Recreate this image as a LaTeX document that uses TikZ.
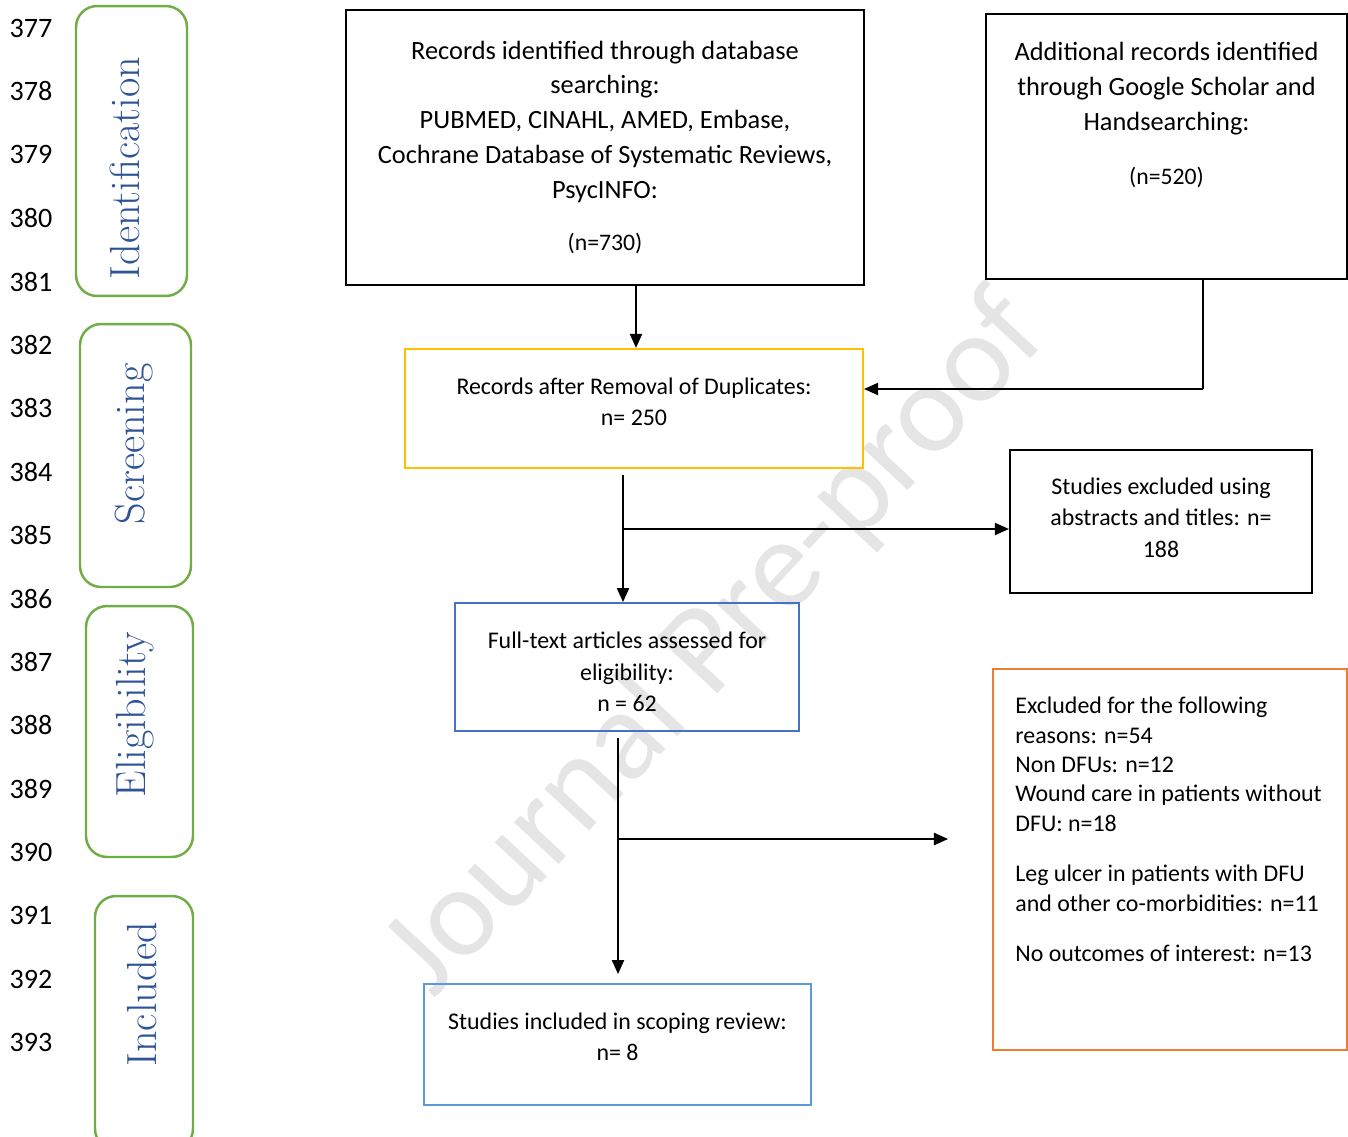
\documentclass[tikz,border=0pt]{standalone}
\usepackage{fontspec}
\newfontfamily\calibri{Carlito}
\usetikzlibrary{arrows.meta}

\definecolor{sidegreen}{HTML}{70AD47}
\definecolor{sideblue}{HTML}{2F5496}
\definecolor{dupyellow}{HTML}{FFC000}
\definecolor{fullblue}{HTML}{4472C4}
\definecolor{inclblue}{HTML}{5B9BD5}
\definecolor{exclorange}{HTML}{ED7D31}

\tikzset{
  box/.style={draw, line width=1.3pt, align=center, inner sep=0pt},
  phase/.style={draw=sidegreen, line width=1.4pt, rounded corners=12pt},
  phaselabel/.style={rotate=90, text=sideblue, inner sep=0pt,
    font=\fontsize{24}{28}\selectfont},
  flow/.style={line width=0.75pt, -{Triangle[length=8pt,width=7pt]}},
  big/.style={font=\calibri\fontsize{15}{19.85}\selectfont},
  small/.style={font=\calibri\fontsize{13.6}{17.9}\selectfont},
  linenum/.style={font=\calibri\fontsize{16}{16}\selectfont, inner sep=0pt}
}

\begin{document}
\begin{tikzpicture}[x=0.02cm,y=-0.02cm]

    \useasboundingbox (0,0) rectangle (1348,1136);

    % Watermark
    \node[rotate=47, text=black!10, inner sep=0pt,
      font=\calibri\fontsize{73}{73}\selectfont] (mark) at (717,645)
    {Journal Pre-proof};

    % Line numbers
    \foreach \n [count=\i from 0] in {377,...,393}
    \node[linenum] (ln\n) at (31,28+63.4*\i) {\n};

    % Phase boxes
    \node[phase, minimum width=2.22cm, minimum height=5.8cm] (ident) at (131.5,151) {};
    \node[phase, minimum width=2.22cm, minimum height=5.26cm] (screen) at (135.5,455.5) {};
    \node[phase, minimum width=2.14cm, minimum height=5.02cm] (elig) at (139.5,731.5) {};
    \node[phase, minimum width=1.96cm, minimum height=5.08cm] (incside) at (144,1023) {};

    \node[phaselabel] (identlbl) at (125,168) {Identification};
    \node[phaselabel] (screenlbl) at (134,444) {Screening};
    \node[phaselabel] (eliglbl) at (135,715) {Eligibility};
    \node[phaselabel] (incsidelbl) at (142,994) {Included};

    % Identification
    \node[box, big, minimum width=10.36cm, minimum height=5.5cm] (db) at (605,147.5)
    {Records identified through database\\
     searching:\\
     PUBMED, CINAHL, AMED, Embase,\\
     Cochrane Database of Systematic Reviews,\\
     PsycINFO:\\[10pt]
     {\fontsize{13.5}{18}\selectfont (n=730)}};

    \node[box, minimum width=7.22cm, minimum height=5.3cm] (add) at (1166.5,146.5) {};
    \node[big, align=center, anchor=north, inner sep=0pt] (addtxt) at (1166.5,42)
    {Additional records identified\\
     through Google Scholar and\\
     Handsearching:\\[11pt]
     {\fontsize{13.5}{18}\selectfont (n=520)}};

    % Screening
    \node[box, small, draw=dupyellow, minimum width=9.16cm, minimum height=2.38cm] (dup)
    at (634,408.5) {Records after Removal of Duplicates:\\ n= 250\\[-10pt]};

    \node[box, small, minimum width=6.04cm, minimum height=2.86cm] (excl1) at (1161,521.5)
    {Studies excluded using\\ abstracts and titles: n=\\ 188\\[-13.4pt]};

    % Eligibility
    \node[box, small, draw=fullblue, line width=1.1pt, minimum width=6.88cm,
      minimum height=2.56cm] (full) at (627,667)
    {Full-text articles assessed for\\ eligibility:\\ n = 62\\[-23.5pt]};

    \node[box, draw=exclorange, line width=1.1pt, minimum width=7.08cm,
      minimum height=7.62cm] (excl2) at (1170,859.5) {};
    \node[small, align=left, anchor=north west, inner sep=0pt,
      font=\calibri\fontsize{13.6}{16.7}\selectfont] (excl2txt) at (1015,697)
    {Excluded for the following\\
     reasons: n=54\\
     Non DFUs: n=12\\
     Wound care in patients without\\
     DFU: n=18\\[12pt]
     Leg ulcer in patients with DFU\\
     and other co-morbidities: n=11\\[12pt]
     No outcomes of interest: n=13};

    % Included
    \node[box, small, draw=inclblue, line width=1.1pt, minimum width=7.74cm,
      minimum height=2.42cm] (incl) at (617.5,1044.5)
    {Studies included in scoping review:\\ n= 8\\[-9pt]};

    % Connectors
    \coordinate (c1) at (636,0);
    \draw[flow] (c1 |- db.south) -- (c1 |- dup.north);

    \coordinate (c2) at (1203,389);
    \draw[line width=0.75pt] (c2 |- add.south) -- (c2);
    \draw[flow] (c2) -- (c2 -| dup.east);

    \coordinate (c3) at (623,475);
    \coordinate (c4) at (623,529);
    \draw[flow] (c3) -- (c3 |- full.north);
    \draw[flow] (c4) -- (c4 -| excl1.west);

    \coordinate (c5) at (618,738);
    \coordinate (c6) at (618,839);
    \coordinate (c7) at (948,839);
    \draw[flow, shorten >=0.18cm] (c5) -- (c5 |- incl.north);
    \draw[flow] (c6) -- (c7);

\end{tikzpicture}
\end{document}
